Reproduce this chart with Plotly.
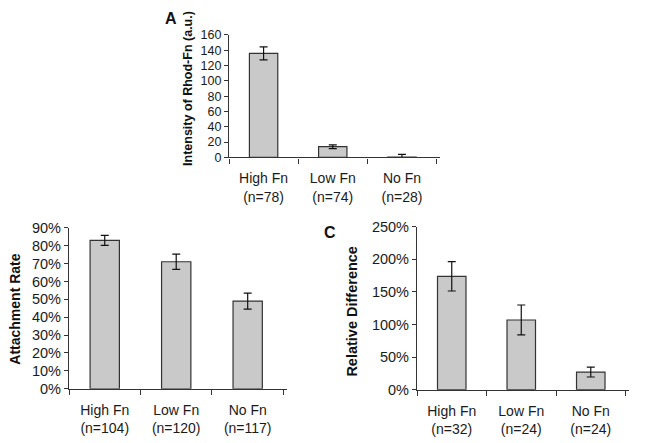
import plotly.graph_objects as go

categories_a = ["High Fn<br>(n=78)", "Low Fn<br>(n=74)", "No Fn<br>(n=28)"]
intensity = [136, 14, 0.5]
intensity_err = [8.5, 2.5, 3.5]

categories_b = ["High Fn<br>(n=104)", "Low Fn<br>(n=120)", "No Fn<br>(n=117)"]
attachment = [0.83, 0.71, 0.49]
attachment_err = [0.028, 0.043, 0.045]

categories_c = ["High Fn<br>(n=32)", "Low Fn<br>(n=24)", "No Fn<br>(n=24)"]
rel_diff = [1.74, 1.07, 0.27]
rel_diff_err = [0.225, 0.23, 0.075]

W, H = 647, 443
BAR = "#c9c9c9"
EDGE = "#333333"
FONT = "Liberation Sans, Arial, sans-serif"

def bar(x, y, err, xa, ya):
    return go.Bar(x=x, y=y, xaxis=xa, yaxis=ya, width=0.41,
                  marker=dict(color=BAR, line=dict(color=EDGE, width=1.2)),
                  error_y=dict(type="data", array=err, visible=True,
                               color="#111", thickness=1.2, width=4),
                  showlegend=False)

fig = go.Figure()
fig.add_trace(bar(categories_a, intensity, intensity_err, "x", "y"))
fig.add_trace(bar(categories_b, attachment, attachment_err, "x2", "y2"))
fig.add_trace(bar(categories_c, rel_diff, rel_diff_err, "x3", "y3"))

def xax(dom, anchor):
    return dict(domain=dom, anchor=anchor, type="category", range=[-0.5, 2.55],
                showline=True, linecolor=EDGE, linewidth=1.2,
                ticks="outside", ticklen=5, tickcolor=EDGE, tickson="boundaries",
                ticklabelstandoff=8,
                showgrid=False, zeroline=False,
                tickfont=dict(family=FONT, size=14, color="#1a1a1a"))

def yax(dom, anchor, rng, dtick, size, fmt=None):
    d = dict(domain=dom, anchor=anchor, range=rng, dtick=dtick,
             showline=True, linecolor=EDGE, linewidth=1.2,
             ticks="outside", ticklen=4, tickcolor=EDGE,
             showgrid=False, zeroline=False,
             tickfont=dict(family=FONT, size=size, color="#1a1a1a"))
    if fmt:
        d["tickformat"] = fmt
    return d

def px(x):
    return x / W

def py(y):
    return 1 - y / H

fig.update_layout(
    width=W, height=H, margin=dict(l=0, r=0, t=0, b=0),
    paper_bgcolor="white", plot_bgcolor="white",
    xaxis=xax([px(229), px(440)], "y"),
    yaxis=yax([py(155), py(28)], "x", [0, 160], 20, 12.5),
    xaxis2=xax([px(69), px(287)], "y2"),
    yaxis2=yax([py(395), py(228)], "x2", [0, 0.9], 0.1, 14.5, ".0%"),
    xaxis3=xax([px(417), px(629)], "y3"),
    yaxis3=yax([py(396), py(227)], "x3", [0, 2.5], 0.5, 14.5, ".0%"),
)

def title(text, x, y, size):
    fig.add_annotation(text=f"<b>{text}</b>", x=px(x), y=py(y), xref="paper", yref="paper",
                       textangle=-90, showarrow=False, xanchor="center", yanchor="middle",
                       font=dict(family=FONT, size=size, color="#111"))

title("Intensity of Rhod-Fn (a.u.)", 188, 84, 12.5)
title("Attachment Rate", 15, 313, 14)
title("Relative Difference", 352, 315, 14.5)

for lab, x, y in [("A", 171, 11), ("C", 330, 233)]:
    fig.add_annotation(text=f"<b>{lab}</b>", x=px(x), y=py(y), xref="paper", yref="paper",
                       showarrow=False, xanchor="center", yanchor="middle",
                       font=dict(family=FONT, size=16, color="#111"))

fig.write_html("out.html")
